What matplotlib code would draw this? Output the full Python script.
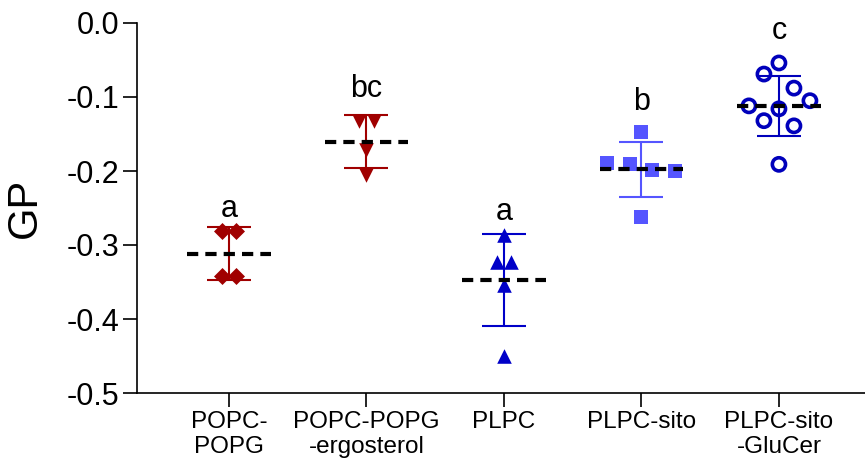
import matplotlib
matplotlib.use("Agg")
from matplotlib import pyplot as plt
import numpy as np

plt.rcParams['font.family'] = ['Liberation Sans', 'DejaVu Sans']

# data
groups = ["POPC-\nPOPG", "POPC-POPG\n-ergosterol", "PLPC", "PLPC-sito", "PLPC-sito\n-GluCer"]
popc_popg = [-0.281, -0.281, -0.342, -0.342]
popc_popg_erg = [-0.132, -0.132, -0.172, -0.205]
plpc = [-0.286, -0.323, -0.323, -0.354, -0.450]
plpc_sito = [-0.147, -0.189, -0.191, -0.198, -0.200, -0.262]
plpc_sito_glucer = [-0.054, -0.069, -0.088, -0.105, -0.112, -0.116, -0.132, -0.139, -0.191]
letters = ["a", "bc", "a", "b", "c"]
letter_y = [-0.262, -0.100, -0.266, -0.117, -0.022]

series = [popc_popg, popc_popg_erg, plpc, plpc_sito, plpc_sito_glucer]
# horizontal spread of points (pixels)
spread = [[-7, 7, -7, 7],
          [-7.5, 7.5, 0, 0],
          [0, -7, 7, 0, 0],
          [0, -34, -11, 11, 34, 0],
          [0, -15, 15, 31, -30, 0, -15, 15, 0]]
colors = ["#A00000", "#A00000", "#0000C8", "#5555FF", "#0000BB"]
markers = ["D", "v", "^", "s", "o"]

fig = plt.figure(figsize=(8.65, 4.69), dpi=100)
ax = fig.add_axes([137/865, 76/469, 1 - 137/865, (393-23)/469])

px = 137.5  # pixels per category
for i, vals in enumerate(series):
    vals = np.array(vals)
    xs = i + np.array(spread[i]) / px
    m = vals.mean()
    sd = vals.std(ddof=1)
    if markers[i] == "o":
        ax.scatter(xs, vals, s=90, facecolors="none", edgecolors=colors[i],
                   linewidths=2.6, zorder=3)
    else:
        size = {"D": 75, "v": 110, "^": 110, "s": 90}[markers[i]]
        ax.scatter(xs, vals, s=size, marker=markers[i], color=colors[i],
                   linewidths=0, zorder=3)
    ax.errorbar(i, m, yerr=sd, color=colors[i], capsize=16, capthick=1.5,
                elinewidth=1.5, zorder=2)
    ax.plot([i - 0.305, i + 0.305], [m, m], color="black", lw=3,
            dashes=(2.7, 1.7), zorder=4)
    ax.text(i, letter_y[i], letters[i], ha="center", va="baseline", fontsize=22)

ax.set_xlim(-0.669, 4.626)
ax.set_ylim(-0.5, 0.0)
ax.set_yticks([0.0, -0.1, -0.2, -0.3, -0.4, -0.5])
ax.set_yticklabels(["0.0", "-0.1", "-0.2", "-0.3", "-0.4", "-0.5"], fontsize=22)
ax.set_xticks(range(5))
ax.set_xticklabels(groups, fontsize=17.5, linespacing=1.2)
ax.set_ylabel("GP", fontsize=30, labelpad=15)

for s in ["top", "right"]:
    ax.spines[s].set_visible(False)
for s in ["left", "bottom"]:
    ax.spines[s].set_linewidth(1.2)
ax.tick_params(length=10, width=1.2, pad=3)

plt.savefig("out.png", dpi=100)
